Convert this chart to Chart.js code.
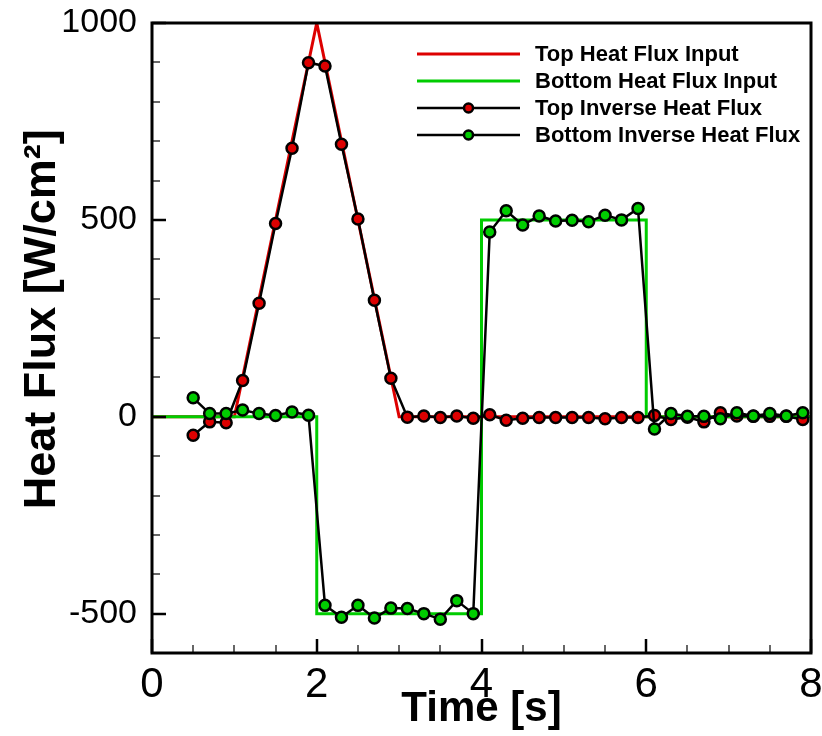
<!DOCTYPE html>
<html>
<head>
<meta charset="utf-8">
<script src="https://cdn.jsdelivr.net/npm/chart.js@4.4.0/dist/chart.umd.min.js"></script>
<style>
html, body { margin: 0; padding: 0; background: #fff; }
</style>
</head>
<body>
<canvas id="chart" width="822" height="736"></canvas>
<script>

// input heat flux (piecewise)
var topInputT   = [0, 1, 2, 3, 8];
var topInputQ   = [0, 0, 1000, 0, 0];
var botInputT   = [0, 2, 2, 4, 4, 6, 6, 8];
var botInputQ   = [0, 0, -500, -500, 500, 500, 0, 0];

// inverse estimates
var invT = [0.5, 0.7, 0.9, 1.1, 1.3, 1.5, 1.7, 1.9, 2.1, 2.3, 2.5, 2.7, 2.9,
            3.1, 3.3, 3.5, 3.7, 3.9, 4.1, 4.3, 4.5, 4.7, 4.9, 5.1, 5.3, 5.5,
            5.7, 5.9, 6.1, 6.3, 6.5, 6.7, 6.9, 7.1, 7.3, 7.5, 7.7, 7.9];
var topInvQ = [-47, -13, -15, 92, 288, 491, 682, 899, 891, 692, 502, 296, 98,
               -1, 2, -2, 2, -4, 5, -9, -4, -2, -2, -2, -2, -5,
               -2, -2, 3, -7, -1, -13, 10, 2, 1, 1, 1, -7];
var botInvQ = [48, 8, 8, 17, 8, 3, 12, 4, -479, -509, -479, -511, -486,
               -487, -500, -514, -467, -500, 469, 523, 487, 510, 497, 499, 495, 512,
               500, 529, -31, 8, 1, 1, -5, 10, 2, 8, 2, 10];

var xTicks = [0, 2, 4, 6, 8];
var yTicks = [-500, 0, 500, 1000];

var RED   = '#dd0000';
var GREEN = '#00cc00';
var FONT  = '"Liberation Sans", Arial, sans-serif';

function pairs(xs, ys) {
    return xs.map(function (x, i) { return {x: x, y: ys[i]}; });
}

function noPad(s) {
    s.paddingTop = 0; s.paddingBottom = 0;
    s.paddingLeft = 0; s.paddingRight = 0;
}

/**********************************************************************
* inward ticks, frame and legend
**********************************************************************/
var framePlugin = {
    id: 'frame',
    afterDraw: function (chart) {
        var ctx = chart.ctx;
        var a = chart.chartArea;
        var sx = chart.scales.x, sy = chart.scales.y;
        ctx.save();
        ctx.strokeStyle = '#000';

        // y ticks (left only)
        for (var v = -600; v <= 1000; v += 100) {
            var major = yTicks.indexOf(v) >= 0;
            var py = Math.round(sy.getPixelForValue(v));
            ctx.lineWidth = major ? 2.5 : 1.2;
            ctx.beginPath();
            ctx.moveTo(a.left, py);
            ctx.lineTo(a.left + (major ? 14 : 8), py);
            ctx.stroke();
        }
        // x ticks (bottom only)
        for (var t = 0; t <= 8; t += 0.5) {
            var majorX = xTicks.indexOf(t) >= 0;
            var px = Math.round(sx.getPixelForValue(t));
            ctx.lineWidth = majorX ? 2.5 : 1.2;
            ctx.beginPath();
            ctx.moveTo(px, a.bottom);
            ctx.lineTo(px, a.bottom - (majorX ? 14 : 8));
            ctx.stroke();
        }

        // frame
        ctx.lineWidth = 3;
        ctx.strokeRect(a.left, a.top, a.right - a.left, a.bottom - a.top);

        // legend
        var items = [
            {ds: 3, marker: false},
            {ds: 2, marker: false},
            {ds: 1, marker: true},
            {ds: 0, marker: true}
        ];
        var lx0 = 417, lx1 = 520, tx = 535, y0 = 54, dy = 27;
        ctx.font = 'bold 22px ' + FONT;
        ctx.textBaseline = 'middle';
        items.forEach(function (it, i) {
            var ds = chart.data.datasets[it.ds];
            var y = y0 + i * dy;
            ctx.strokeStyle = ds.borderColor;
            ctx.lineWidth = ds.borderWidth;
            ctx.beginPath();
            ctx.moveTo(lx0, y);
            ctx.lineTo(lx1, y);
            ctx.stroke();
            if (it.marker) {
                ctx.beginPath();
                ctx.arc((lx0 + lx1) / 2, y, 4.5, 0, Math.PI * 2);
                ctx.fillStyle = ds.pointBackgroundColor;
                ctx.fill();
                ctx.lineWidth = 2.5;
                ctx.strokeStyle = '#000';
                ctx.stroke();
            }
            ctx.fillStyle = '#000';
            ctx.fillText(ds.label, tx, y + 1);
        });
        ctx.restore();
    }
};

var ctx = document.getElementById('chart').getContext('2d');
window.myChart = new Chart(ctx, {
    type: 'line',
    data: {
        datasets: [
            {
                label: 'Bottom Inverse Heat Flux',
                data: pairs(invT, botInvQ),
                borderColor: '#000',
                borderWidth: 2.5,
                pointRadius: 5.5,
                pointBorderWidth: 2.5,
                pointBorderColor: '#000',
                pointBackgroundColor: GREEN
            },
            {
                label: 'Top Inverse Heat Flux',
                data: pairs(invT, topInvQ),
                borderColor: '#000',
                borderWidth: 2.5,
                pointRadius: 5.5,
                pointBorderWidth: 2.5,
                pointBorderColor: '#000',
                pointBackgroundColor: RED
            },
            {
                label: 'Bottom Heat Flux Input',
                data: pairs(botInputT, botInputQ),
                borderColor: GREEN,
                borderWidth: 3,
                pointRadius: 0
            },
            {
                label: 'Top Heat Flux Input',
                data: pairs(topInputT, topInputQ),
                borderColor: RED,
                borderWidth: 3,
                pointRadius: 0
            }
        ]
    },
    options: {
        responsive: false,
        animation: false,
        layout: { padding: { top: 23, right: 11, left: 0, bottom: 0 } },
        plugins: { legend: { display: false }, tooltip: { enabled: false } },
        elements: { line: { tension: 0 } },
        scales: {
            x: {
                type: 'linear',
                min: 0, max: 8,
                afterFit: function (s) { s.height = 83; noPad(s); },
                afterBuildTicks: function (s) { s.ticks = xTicks.map(function (v) { return {value: v}; }); },
                grid: { display: false, drawTicks: false },
                border: { display: false },
                ticks: {
                    color: '#000',
                    padding: 7,
                    maxRotation: 0,
                    callback: function (v) { return String(v); },
                    font: { family: FONT, size: 42 }
                },
                title: {
                    display: true,
                    text: 'Time [s]',
                    color: '#000',
                    padding: { top: 0, bottom: 6 },
                    font: { family: FONT, size: 42, weight: 'bold', lineHeight: 1 }
                }
            },
            y: {
                type: 'linear',
                min: -600, max: 1000,
                afterFit: function (s) { s.width = 152; noPad(s); },
                afterBuildTicks: function (s) { s.ticks = yTicks.map(function (v) { return {value: v}; }); },
                grid: { display: false, drawTicks: false },
                border: { display: false },
                ticks: {
                    color: '#000',
                    padding: 15,
                    callback: function (v) { return String(v); },
                    font: { family: FONT, size: 34 }
                },
                title: {
                    display: true,
                    text: '   Heat Flux [W/cm\u00b2]',
                    color: '#000',
                    padding: { top: 20, bottom: 0 },
                    font: { family: FONT, size: 45, weight: 'bold', lineHeight: 1 }
                }
            }
        }
    },
    plugins: [framePlugin]
});
</script>
</body>
</html>
